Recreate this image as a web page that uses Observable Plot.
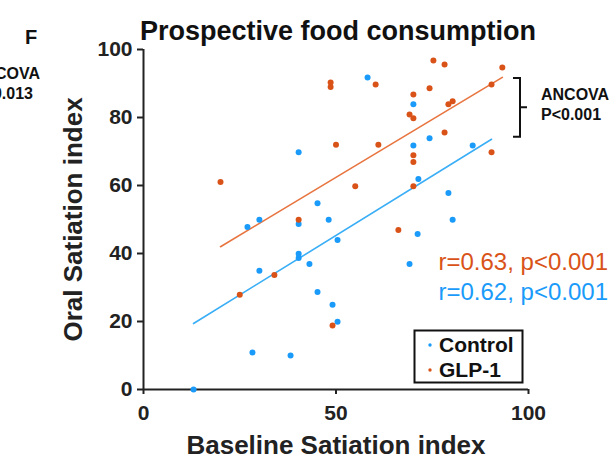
<!DOCTYPE html>
<html>
<head>
<meta charset="utf-8">
<script src="https://cdn.jsdelivr.net/npm/d3@7"></script>
<script src="https://cdn.jsdelivr.net/npm/@observablehq/plot@0.6"></script>
<style>
  html, body { margin: 0; padding: 0; background: #fff; }
  #chart { width: 614px; height: 460px; overflow: hidden; }
</style>
</head>
<body>
<div id="chart"></div>
<script>
// ---- data ----
const controlX = [13, 27, 28.3, 30.1, 30.1, 38.2, 40.3, 40.3, 40.3, 40.3, 43.1, 45.2, 45.2, 48.1, 49.1, 50.4, 50.4, 58.2, 69.1, 70.1, 70.1, 71.2, 71.4, 74.3, 79.2, 80.3, 85.5];
const controlY = [0, 47.8, 10.9, 49.9, 34.9, 10, 69.8, 48.7, 39.9, 38.7, 36.9, 54.8, 28.7, 49.9, 24.9, 44, 19.9, 91.8, 36.9, 83.9, 71.8, 45.7, 61.9, 73.9, 57.8, 49.9, 71.8];
const glpX = [20, 25, 34, 40.3, 48.6, 48.6, 49.1, 50, 55, 60.3, 61, 66.2, 69.1, 70.1, 70.1, 70.1, 70.1, 70.1, 74.3, 75.3, 78.2, 78.2, 79.2, 80.3, 90.4, 90.4, 93.2];
const glpY = [61, 27.9, 33.7, 49.9, 90.3, 89, 18.8, 72, 59.8, 89.7, 72, 46.9, 80.9, 79.8, 86.8, 68.9, 66.9, 59.8, 88.6, 96.8, 95.6, 75.6, 83.9, 84.8, 89.7, 69.8, 94.7];
// regression lines (end points)
const controlFitX = [13, 90.4];
const controlFitY = [19.4, 73.6];
const glpFitX = [20, 93.2];
const glpFitY = [42, 91.8];
const xTicks = [0, 50, 100];
const yTicks = [0, 20, 40, 60, 80, 100];
const groups = ["Control", "GLP-1"];
const stats = ["r=0.63, p<0.001", "r=0.62, p<0.001"];

const BLUE = "#1A9BFA", ORANGE = "#D95319";
const BLUE_LINE = "#3AAEF6", ORANGE_LINE = "#E8743F";
const FONT = "'Liberation Sans', Arial, Helvetica, sans-serif";

const control = controlX.map((x, i) => ({x, y: controlY[i]}));
const glp = glpX.map((x, i) => ({x, y: glpY[i]}));
const controlFit = controlFitX.map((x, i) => ({x, y: controlFitY[i]}));
const glpFit = glpFitX.map((x, i) => ({x, y: glpFitY[i]}));

const plot = Plot.plot({
  width: 614,
  height: 460,
  marginLeft: 143,
  marginRight: 86,
  marginTop: 49,
  marginBottom: 71,
  style: {fontFamily: FONT, background: "#fff", overflow: "visible"},
  x: {domain: [0, 100]},
  y: {domain: [0, 100]},
  marks: [
    Plot.axisX({ticks: xTicks, tickSize: 5, tickPadding: 11, fontSize: 21, fontWeight: "bold", color: "#222", strokeWidth: 2, label: null}),
    Plot.axisY({ticks: yTicks, tickSize: 6, tickPadding: 5, fontSize: 21, fontWeight: "bold", color: "#222", strokeWidth: 2, label: null}),
    Plot.ruleX([0], {stroke: "#222", strokeWidth: 2}),
    Plot.ruleY([0], {stroke: "#222", strokeWidth: 2}),
    Plot.line(glpFit, {x: "x", y: "y", stroke: ORANGE_LINE, strokeWidth: 1.6}),
    Plot.line(controlFit, {x: "x", y: "y", stroke: BLUE_LINE, strokeWidth: 1.6}),
    Plot.dot(control, {x: "x", y: "y", r: 3, fill: BLUE, stroke: "none"}),
    Plot.dot(glp, {x: "x", y: "y", r: 3, fill: ORANGE, stroke: "none"}),
    // titles & axis labels
    Plot.text(["Prospective food consumption"], {frameAnchor: "top", textAnchor: "middle", lineAnchor: "bottom", dx: 2, dy: -10, fontSize: 27, fontWeight: "bold", fill: "#111"}),
    Plot.text(["Baseline Satiation index"], {frameAnchor: "bottom", textAnchor: "middle", lineAnchor: "bottom", dy: 64, fontSize: 26, fontWeight: "bold", fill: "#222"}),
    Plot.text(["Oral Satiation index"], {frameAnchor: "left", textAnchor: "middle", lineAnchor: "middle", rotate: -90, dx: -70, fontSize: 26, fontWeight: "bold", fill: "#222"}),
    // correlation stats
    Plot.text([stats[0]], {frameAnchor: "right", textAnchor: "start", dx: -90, dy: 43, fontSize: 24, fill: ORANGE}),
    Plot.text([stats[1]], {frameAnchor: "right", textAnchor: "start", dx: -90, dy: 73, fontSize: 24, fill: BLUE})
  ]
});

const svg = d3.select(plot);
const xs = plot.scale("x"), ys = plot.scale("y");

// ANCOVA bracket on the right, spanning the two fit-line ends
const yTop = ys.apply(glpFitY[1]) + 1;
const yBot = ys.apply(controlFitY[1]) - 2;
const yMid = (yTop + yBot) / 2;
const bx = xs.apply(100) - 8;
svg.append("path")
  .attr("d", `M${bx - 7},${yTop} H${bx} V${yBot} H${bx - 7} M${bx},${yMid} H${bx + 7}`)
  .attr("fill", "none").attr("stroke", "#111").attr("stroke-width", 2);
const ancova = svg.append("text").attr("font-family", FONT).attr("font-weight", "bold")
  .attr("font-size", 16).attr("fill", "#111").attr("text-anchor", "start");
ancova.append("tspan").attr("x", bx + 21).attr("y", yMid - 7).text("ANCOVA");
ancova.append("tspan").attr("x", bx + 21).attr("y", yMid + 13).text("P<0.001");

// panel letter and cut-off annotation on the left
svg.append("text").attr("x", 31).attr("y", 44).attr("text-anchor", "middle")
  .attr("font-family", FONT).attr("font-weight", "bold").attr("font-size", 20).attr("fill", "#111").text("F");
const left = svg.append("text").attr("font-family", FONT).attr("font-weight", "bold")
  .attr("font-size", 16).attr("fill", "#111").attr("text-anchor", "end");
left.append("tspan").attr("x", 40).attr("y", 79).text("ANCOVA");
left.append("tspan").attr("x", 33).attr("y", 99).text("P=0.013");

// legend box
const lg = svg.append("g").attr("font-family", FONT).attr("text-anchor", "start");
lg.append("rect").attr("x", 414.5).attr("y", 330.5).attr("width", 108).attr("height", 52)
  .attr("fill", "#fff").attr("stroke", "#111").attr("stroke-width", 2);
[[BLUE, 345], [ORANGE, 370]].forEach(([c, y], i) => {
  lg.append("circle").attr("cx", 430).attr("cy", y).attr("r", 1.7).attr("fill", c);
  lg.append("text").attr("x", 439).attr("y", y + 7).attr("font-size", 21)
    .attr("font-weight", "bold").attr("fill", "#111").text(groups[i]);
});

document.getElementById("chart").appendChild(plot);
</script>
</body>
</html>
